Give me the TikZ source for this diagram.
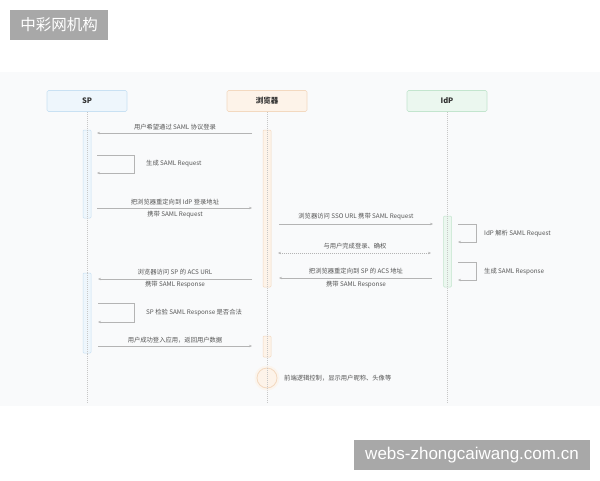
\documentclass[tikz,border=0pt]{standalone}
\usepackage{fontspec}
\setmainfont{Noto Sans CJK SC}
\setsansfont{Noto Sans CJK SC}
\newfontfamily\wmlatin{Liberation Sans}
\usetikzlibrary{arrows.meta}
\definecolor{bgc}{HTML}{F9FAFB}
\definecolor{spfill}{HTML}{EEF6FC}
\definecolor{spdraw}{HTML}{C9E1F3}
\definecolor{brfill}{HTML}{FDF3E9}
\definecolor{brdraw}{HTML}{F3D9C0}
\definecolor{idfill}{HTML}{EBF7EF}
\definecolor{iddraw}{HTML}{C3E5CE}
\definecolor{linec}{HTML}{B4B4B4}
\definecolor{txtc}{HTML}{555555}
\definecolor{wmc}{HTML}{A8A8A8}
\tikzset{
  head/.style={draw=#1, line width=0.6pt, rounded corners=1.5pt, minimum width=80pt, minimum height=21pt, inner sep=0pt, font=\fontsize{7.5}{8}\selectfont\bfseries, text=black!80},
  bar/.style={draw=#1, line width=0.5pt, rounded corners=1pt, minimum width=8pt, inner sep=0pt},
  life/.style={draw=black!22, line width=0.6pt, dash pattern=on 1pt off 1pt},
  msg/.style={draw=linec, line width=0.5pt, -{Stealth[length=3pt,width=2.4pt]}},
  dmsg/.style={draw=linec, line width=0.5pt, dash pattern=on 1pt off 1pt, {Stealth[length=3pt,width=2.4pt]}-{Stealth[length=3pt,width=2.4pt]}},
  lbl/.style={font=\fontsize{6.3}{7}\selectfont, text=txtc, inner sep=0pt},
  wm/.style={fill=wmc, text=white, inner sep=0pt},
}
\begin{document}
\begin{tikzpicture}[x=1pt,y=-1pt]
\useasboundingbox (0,0) rectangle (600,480);
\fill[white] (0,0) rectangle (600,480);
\fill[bgc] (0,72) rectangle (600,406);

% watermarks
\node[wm, minimum width=98pt, minimum height=30pt, font=\fontsize{15.5}{16}\selectfont] (wm1) at (59,25) {中彩网机构};
\node[wm, minimum width=236pt, minimum height=30pt, font=\wmlatin\fontsize{17}{18}\selectfont] (wm2) at (472,455) {webs-zhongcaiwang.com.cn};

% lifelines
\coordinate (spend) at (87,403);
\coordinate (brend) at (267,403);
\coordinate (idend) at (447,403);

% headers
\node[head=spdraw, fill=spfill] (sp) at (87,101) {SP};
\node[head=brdraw, fill=brfill] (br) at (267,101) {浏览器};
\node[head=iddraw, fill=idfill] (idp) at (447,101) {IdP};

\draw[life] (sp.south) -- (spend);
\draw[life] (br.south) -- (brend);
\draw[life] (idp.south) -- (idend);

% activation bars
\node[bar=spdraw, fill=spfill, minimum height=88pt] (spb1) at (87,174) {};
\node[bar=spdraw, fill=spfill, minimum height=80pt] (spb2) at (87,313) {};
\node[bar=brdraw, fill=brfill, minimum height=157pt] (brb1) at (267,208.5) {};
\node[bar=brdraw, fill=brfill, minimum height=21pt] (brb2) at (267,346.5) {};
\node[bar=iddraw, fill=idfill, minimum height=71pt] (idb) at (447.5,251.5) {};
\draw[life] (spb1.north) -- (spb1.south);
\draw[life] (spb2.north) -- (spb2.south);
\draw[life] (brb1.north) -- (brb1.south);
\draw[life] (brb2.north) -- (brb2.south);
\draw[life] (idb.north) -- (idb.south);

% circle with halo
\fill[brfill, opacity=0.7] (267,378) circle (12.5pt);
\node[circle, draw=brdraw, line width=0.8pt, fill=brfill, minimum size=20pt, inner sep=0pt] (cir) at (267,378) {};
\draw[life] (cir.north) -- (cir.south);

% message 1
\coordinate (m1a) at (252,133); \coordinate (m1b) at (97,133);
\draw[msg] (m1a) -- (m1b);
\node[lbl] (l1) at (175,127) {用户希望通过 SAML 协议登录};

% self 1
\coordinate (s1a) at (97,155); \coordinate (s1b) at (134,155);
\coordinate (s1c) at (134,173); \coordinate (s1d) at (97,173);
\draw[msg] (s1a) -- (s1b) -- (s1c) -- (s1d);
\node[lbl, anchor=west] (ls1) at (146,164) {生成 SAML Request};

% message 3
\coordinate (m3a) at (97,208); \coordinate (m3b) at (252,208);
\draw[msg] (m3a) -- (m3b);
\node[lbl] (l3a) at (175,202) {把浏览器重定向到 IdP 登录地址};
\node[lbl] (l3b) at (175,215) {携带 SAML Request};

% message 4
\coordinate (m4a) at (279,224); \coordinate (m4b) at (433,224);
\draw[msg] (m4a) -- (m4b);
\node[lbl] (l4) at (356,217) {浏览器访问 SSO URL 携带 SAML Request};

% self IdP 1
\coordinate (s2a) at (458,224); \coordinate (s2b) at (476,224);
\coordinate (s2c) at (476,242); \coordinate (s2d) at (458,242);
\draw[msg] (s2a) -- (s2b) -- (s2c) -- (s2d);
\node[lbl, anchor=west] (ls2) at (484,234) {IdP 解析 SAML Request};

% message 6 (dotted, both ends)
\coordinate (m6a) at (278,253); \coordinate (m6b) at (431,253);
\draw[dmsg] (m6a) -- (m6b);
\node[lbl] (l6) at (355,246) {与用户完成登录、确权};

% self IdP 2
\coordinate (s3a) at (458,262); \coordinate (s3b) at (476,262);
\coordinate (s3c) at (476,280); \coordinate (s3d) at (458,280);
\draw[msg] (s3a) -- (s3b) -- (s3c) -- (s3d);
\node[lbl, anchor=west] (ls3) at (484,272) {生成 SAML Response};

% message 8
\coordinate (m8a) at (432,278); \coordinate (m8b) at (279,278);
\draw[msg] (m8a) -- (m8b);
\node[lbl] (l8a) at (356,271) {把浏览器重定向到 SP 的 ACS 地址};
\node[lbl] (l8b) at (356,285) {携带 SAML Response};

% message 9
\coordinate (m9a) at (252,279); \coordinate (m9b) at (98,279);
\draw[msg] (m9a) -- (m9b);
\node[lbl] (l9a) at (175,272) {浏览器访问 SP 的 ACS URL};
\node[lbl] (l9b) at (175,285) {携带 SAML Response};

% self SP 2
\coordinate (s4a) at (98,303); \coordinate (s4b) at (134,303);
\coordinate (s4c) at (134,322); \coordinate (s4d) at (98,322);
\draw[msg] (s4a) -- (s4b) -- (s4c) -- (s4d);
\node[lbl, anchor=west] (ls4) at (146,313) {SP 检验 SAML Response 是否合法};

% message 11
\coordinate (m11a) at (98,346); \coordinate (m11b) at (252,346);
\draw[msg] (m11a) -- (m11b);
\node[lbl] (l11) at (175,340) {用户成功登入应用，返回用户数据};

% circle label
\node[lbl, anchor=west] (lc) at (284,378) {前端逻辑控制，显示用户昵称、头像等};
\end{tikzpicture}
\end{document}
